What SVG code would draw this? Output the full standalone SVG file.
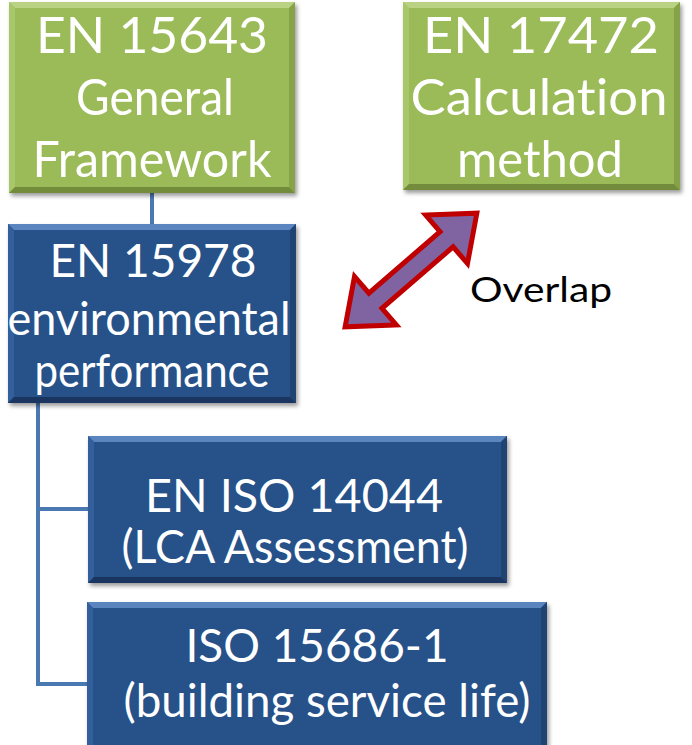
<svg xmlns="http://www.w3.org/2000/svg" width="692" height="745" viewBox="0 0 692 745">
  <defs>
    <filter id="shadow" x="-10%" y="-10%" width="125%" height="130%">
      <feDropShadow dx="2" dy="3" stdDeviation="2.2" flood-color="#000" flood-opacity="0.4"/>
    </filter>
    <style>
      text { font-variant-ligatures: none; font-feature-settings: "liga" 0; }
      .lbl { font-family: Lato, "Open Sans", "Liberation Sans", sans-serif; fill: #ffffff; text-anchor: middle; }
      .g  { font-size: 50px; }
      .b  { font-size: 46px; }
      .green { fill: #9bbb59; }
      .blue  { fill: #285189; }
      .g-top { fill: #b9d283; }
      .g-left { fill: #a8c76a; }
      .g-right { fill: #86a447; }
      .g-bot { fill: #728c3c; }
      .b-top { fill: #5a85be; }
      .b-left { fill: #33609c; }
      .b-right { fill: #1f4372; }
      .b-bot { fill: #1a3660; }
      .conn { stroke: #4a78b0; stroke-width: 4; fill: none; }
      .overlap { font-family: Lato, "Open Sans", "Liberation Sans", sans-serif; font-size: 34px; fill: #000; }
    </style>
  </defs>

  <rect width="692" height="745" fill="#ffffff"/>

  <!-- connectors -->
  <g id="connectors">
    <line class="conn" x1="152" y1="192" x2="152" y2="226"/>
    <polyline class="conn" points="38,402 38,684 88,684"/>
    <line class="conn" x1="38" y1="509" x2="89" y2="509"/>
  </g>

  <!-- EN 15643 -->
  <g id="en15643">
    <rect class="green" x="9" y="2" width="286" height="191" filter="url(#shadow)"/>
    <polygon class="g-top" points="9,2 295,2 289,8 15,8"/>
    <polygon class="g-left" points="9,2 15,8 15,187 9,193"/>
    <polygon class="g-right" points="295,2 295,193 289,187 289,8"/>
    <polygon class="g-bot" points="9,193 15,187 289,187 295,193"/>
    <text class="lbl g" x="152" y="53" textLength="232" lengthAdjust="spacingAndGlyphs">EN 15643</text>
    <text class="lbl g" x="155" y="115" textLength="158" lengthAdjust="spacingAndGlyphs">General</text>
    <text class="lbl g" x="152" y="177" textLength="239" lengthAdjust="spacingAndGlyphs">Framework</text>
  </g>

  <!-- EN 17472 -->
  <g id="en17472">
    <rect class="green" x="403" y="2" width="277" height="188" filter="url(#shadow)"/>
    <polygon class="g-top" points="403,2 680,2 674,8 409,8"/>
    <polygon class="g-left" points="403,2 409,8 409,184 403,190"/>
    <polygon class="g-right" points="680,2 680,190 674,184 674,8"/>
    <polygon class="g-bot" points="403,190 409,184 674,184 680,190"/>
    <text class="lbl g" x="541" y="53" textLength="236" lengthAdjust="spacingAndGlyphs">EN 17472</text>
    <text class="lbl g" x="539" y="115" textLength="257" lengthAdjust="spacingAndGlyphs">Calculation</text>
    <text class="lbl g" x="540" y="177" textLength="166" lengthAdjust="spacingAndGlyphs">method</text>
  </g>

  <!-- EN 15978 -->
  <g id="en15978">
    <rect class="blue" x="8" y="224" width="288" height="179" filter="url(#shadow)"/>
    <polygon class="b-top" points="8,224 296,224 290,230 14,230"/>
    <polygon class="b-left" points="8,224 14,230 14,397 8,403"/>
    <polygon class="b-right" points="296,224 296,403 290,397 290,230"/>
    <polygon class="b-bot" points="8,403 14,397 290,397 296,403"/>
    <text class="lbl b" x="153" y="277" textLength="207" lengthAdjust="spacingAndGlyphs">EN 15978</text>
    <text class="lbl b" x="149" y="335" textLength="283" lengthAdjust="spacingAndGlyphs">environmental</text>
    <text class="lbl b" x="152" y="387" textLength="235" lengthAdjust="spacingAndGlyphs">performance</text>
  </g>

  <!-- EN ISO 14044 -->
  <g id="en-iso-14044">
    <rect class="blue" x="88" y="436" width="419" height="147" filter="url(#shadow)"/>
    <polygon class="b-top" points="88,436 507,436 501,442 94,442"/>
    <polygon class="b-left" points="88,436 94,442 94,577 88,583"/>
    <polygon class="b-right" points="507,436 507,583 501,577 501,442"/>
    <polygon class="b-bot" points="88,583 94,577 501,577 507,583"/>
    <text class="lbl b" x="294" y="512" textLength="298" lengthAdjust="spacingAndGlyphs">EN ISO 14044</text>
    <text class="lbl b" x="295" y="563" textLength="347" lengthAdjust="spacingAndGlyphs">(LCA Assessment)</text>
  </g>

  <!-- ISO 15686-1 -->
  <g id="iso-15686-1">
    <rect class="blue" x="87" y="602" width="460" height="150" filter="url(#shadow)"/>
    <polygon class="b-top" points="87,602 547,602 541,608 93,608"/>
    <polygon class="b-left" points="87,602 93,608 93,752 87,752"/>
    <polygon class="b-right" points="547,602 547,752 541,752 541,608"/>
    <text class="lbl b" x="317" y="662" textLength="263" lengthAdjust="spacingAndGlyphs">ISO 15686-1</text>
    <text class="lbl b" x="327" y="717" textLength="407" lengthAdjust="spacingAndGlyphs">(building service life)</text>
  </g>

  <!-- overlap arrow and label -->
  <g id="overlap">
    <g transform="translate(411 270) rotate(-40.8)">
      <polygon points="87,0 47,32 47,10 -47,10 -47,32 -87,0 -47,-32 -47,-10 47,-10 47,-32"
               fill="#8064a2" stroke="#c00000" stroke-width="5" stroke-linejoin="miter"/>
    </g>
    <text class="overlap" x="470" y="302" textLength="142" lengthAdjust="spacingAndGlyphs">Overlap</text>
  </g>
</svg>
